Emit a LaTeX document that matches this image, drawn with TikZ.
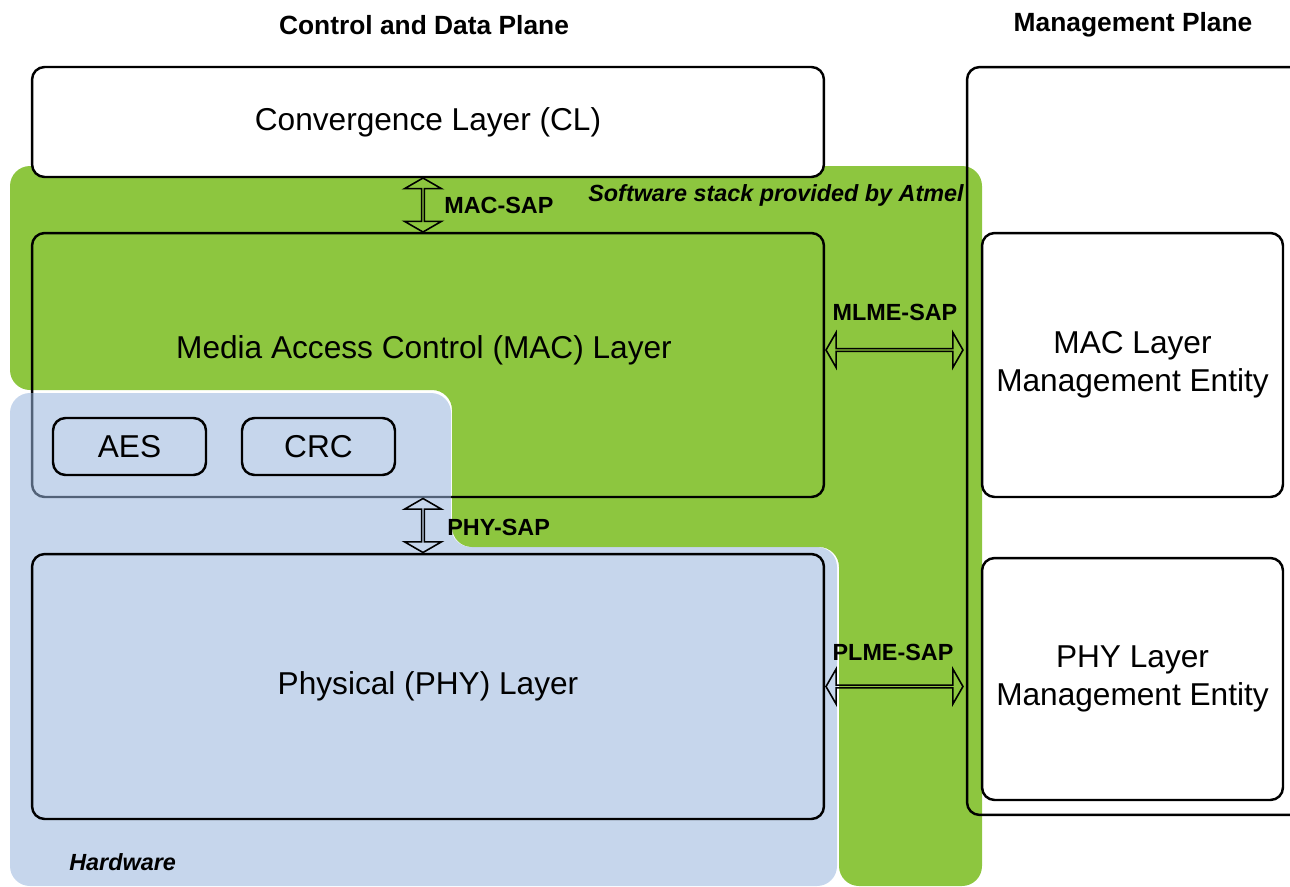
\documentclass[tikz,border=0pt]{standalone}
\usepackage{fontspec}
\setmainfont{Liberation Sans}
\usetikzlibrary{shapes.arrows,calc}
\definecolor{swgreen}{HTML}{8DC63F}
\definecolor{hwblue}{RGB}{151,180,220}

\begin{document}
\begin{tikzpicture}[x=0.02cm, y=-0.02cm,
  layer/.style={draw, line width=1.4pt, rounded corners=0.25cm, inner sep=0pt,
    font=\fontsize{18}{21.5}\selectfont, align=center},
  sap/.style={double arrow, draw, line width=0.9pt, inner sep=0pt,
    double arrow head extend=0.19cm, double arrow tip angle=120, minimum width=0.74cm},
  saplabel/.style={font=\fontsize{13.3}{16}\selectfont\bfseries, inner sep=0pt},
  plane/.style={font=\fontsize{15}{18}\selectfont\bfseries, inner sep=0pt},
  region/.style={rounded corners=0.4cm}]

\useasboundingbox (0,0) rectangle (1290,886);

\fill[swgreen, region] (10,166) -- (982,166) -- (982,886) -- (839,886) -- (839,547)
  -- (452,547) -- (452,390) -- (10,390) -- cycle;

\node[layer, fill=white, minimum width=15.84cm, minimum height=2.2cm] (cl) at (428,122) {Convergence Layer (CL)};
\node[layer, minimum width=15.84cm, minimum height=5.28cm] (mac) at (428,365) {};
\node[layer, draw=none] (mactext) at (424,350) {Media Access Control (MAC) Layer};

\fill[hwblue, fill opacity=0.55, region] (10,393) -- (451,393) -- (451,547) -- (837,547)
  -- (837,886) -- (10,886) -- cycle;

\node[layer, minimum width=3.06cm, minimum height=1.14cm] (aes) at (129.5,446.5) {AES};
\node[layer, minimum width=3.06cm, minimum height=1.14cm] (crc) at (318.5,446.5) {CRC};
\node[layer, minimum width=15.84cm, minimum height=5.3cm] (phy) at (428,686.5) {Physical (PHY) Layer};

\node[layer, minimum width=6.7cm, minimum height=14.96cm] (mgmt) at (1134.5,441) {};
\node[layer, fill=white, minimum width=6.02cm, minimum height=5.28cm] (mlme) at (1132.5,365) {MAC Layer\\Management Entity};
\node[layer, fill=white, minimum width=6.02cm, minimum height=4.84cm] (plme) at (1132.5,679) {PHY Layer\\Management Entity};

\node[sap, rotate=90, minimum height=1.08cm] (macsap) at ($(cl.south)!.5!(mac.north) + (-5,0)$) {};
\node[sap, rotate=90, minimum height=1.08cm] (physap) at ($(mac.south)!.5!(phy.north) + (-5,0)$) {};
\node[sap, minimum height=2.74cm, minimum width=0.7cm] (mlmesap) at ($(mac.east)!.5!(mac.east -| mgmt.west) + (-1,-15)$) {};
\node[sap, minimum height=2.74cm, minimum width=0.7cm] (plmesap) at ($(phy.east)!.5!(phy.east -| mgmt.west) + (-1,0)$) {};

\node[saplabel, anchor=west] at (444,205) {MAC-SAP};
\node[saplabel, anchor=west] at (447,527) {PHY-SAP};
\node[saplabel] at (895,312) {MLME-SAP};
\node[saplabel] at (893,652) {PLME-SAP};
\node[saplabel, anchor=east] at (964,195) {\itshape Software stack provided by Atmel};
\node[saplabel, anchor=west] at (69,862) {\itshape Hardware};

\node[plane] at (424,25) {Control and Data Plane};
\node[plane] at (1133,25) {Management Plane};

\end{tikzpicture}
\end{document}
